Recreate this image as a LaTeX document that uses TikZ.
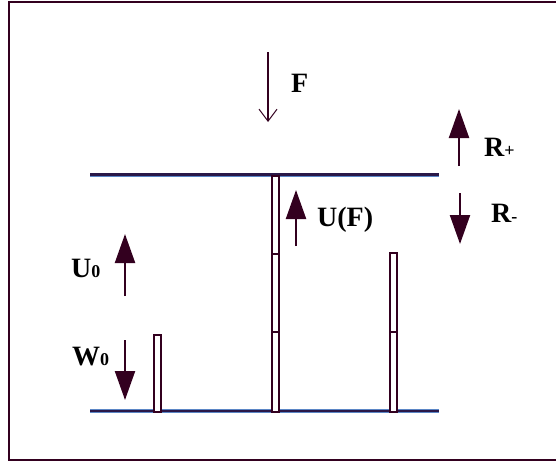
\documentclass[tikz,border=0pt]{standalone}
\usepackage{fontspec}
\setmainfont{Liberation Serif}
\usetikzlibrary{arrows.meta}
\definecolor{ink}{HTML}{33001F}
\definecolor{plateblue}{HTML}{5B86C6}
\definecolor{platecore}{HTML}{2A1848}
\tikzset{
  plate/.style={draw=plateblue, line width=4pt},
  platecore/.style={draw=platecore, line width=2.2pt},
  bar/.style={draw=ink, line width=2pt, fill=white},
  force/.style={draw=ink, line width=2.2pt, -{Triangle[length=29pt, width=20pt]}},
  openforce/.style={draw=ink, line width=1.3pt, -{Straight Barb[length=12pt, width=18pt, line width=1pt]}},
  lbl/.style={font=\bfseries\fontsize{28}{28}\selectfont, inner sep=0pt, anchor=west},
}
\newcommand{\idx}{\fontsize{18}{18}\selectfont}
\begin{document}
\begin{tikzpicture}[x=1pt, y=-1pt]
\useasboundingbox (0,0) rectangle (556,461);
% outer frame (open on the right)
\draw[ink, line width=2pt] (580,2) -- (8.5,2) -- (8.5,460) -- (580,460);

% plates
\coordinate (tl) at (90,174.5);
\coordinate (tr) at (439,174.5);
\coordinate (bl) at (90,411);
\coordinate (br) at (439,411);
\draw[plate] (tl) -- (tr);
\draw[platecore] (tl) -- (tr);
\draw[plate] (bl) -- (br);
\draw[platecore] (bl) -- (br);

% springs
\draw[bar] (153.5,335) rectangle (161,411.5);
\draw[bar] (271.5,176) rectangle (279,411.5);
\draw[ink, line width=2pt] (271.5,254) -- (279,254);
\draw[ink, line width=2pt] (271.5,332) -- (279,332);
\draw[bar] (389.5,253) rectangle (397,411.5);
\draw[ink, line width=2pt] (389.5,332) -- (397,332);

% applied force
\coordinate (f0) at (268,52);
\coordinate (f1) at (268,122);
\draw[openforce] (f0) -- (f1);
\node[lbl] (F) at (291,83) {F};

% reactions
\coordinate (rp0) at (459,166);
\coordinate (rp1) at (459,109);
\draw[force] (rp0) -- (rp1);
\node[lbl] (Rp) at (484,147) {R{\idx +}};
\coordinate (rm0) at (460,193);
\coordinate (rm1) at (460,244);
\draw[force] (rm0) -- (rm1);
\node[lbl] (Rm) at (491,213) {R{\idx -}};

% energies
\coordinate (u0a) at (125,296);
\coordinate (u0b) at (125,234);
\draw[force] (u0a) -- (u0b);
\node[lbl] (U0) at (71,268) {U{\idx 0}};
\coordinate (w0a) at (125,340);
\coordinate (w0b) at (125,400);
\draw[force] (w0a) -- (w0b);
\node[lbl] (W0) at (72,357) {W{\idx 0}};
\coordinate (ufa) at (296,246);
\coordinate (ufb) at (296,190);
\draw[force] (ufa) -- (ufb);
\node[lbl] (UF) at (317,220) {U(F)};
\end{tikzpicture}
\end{document}
